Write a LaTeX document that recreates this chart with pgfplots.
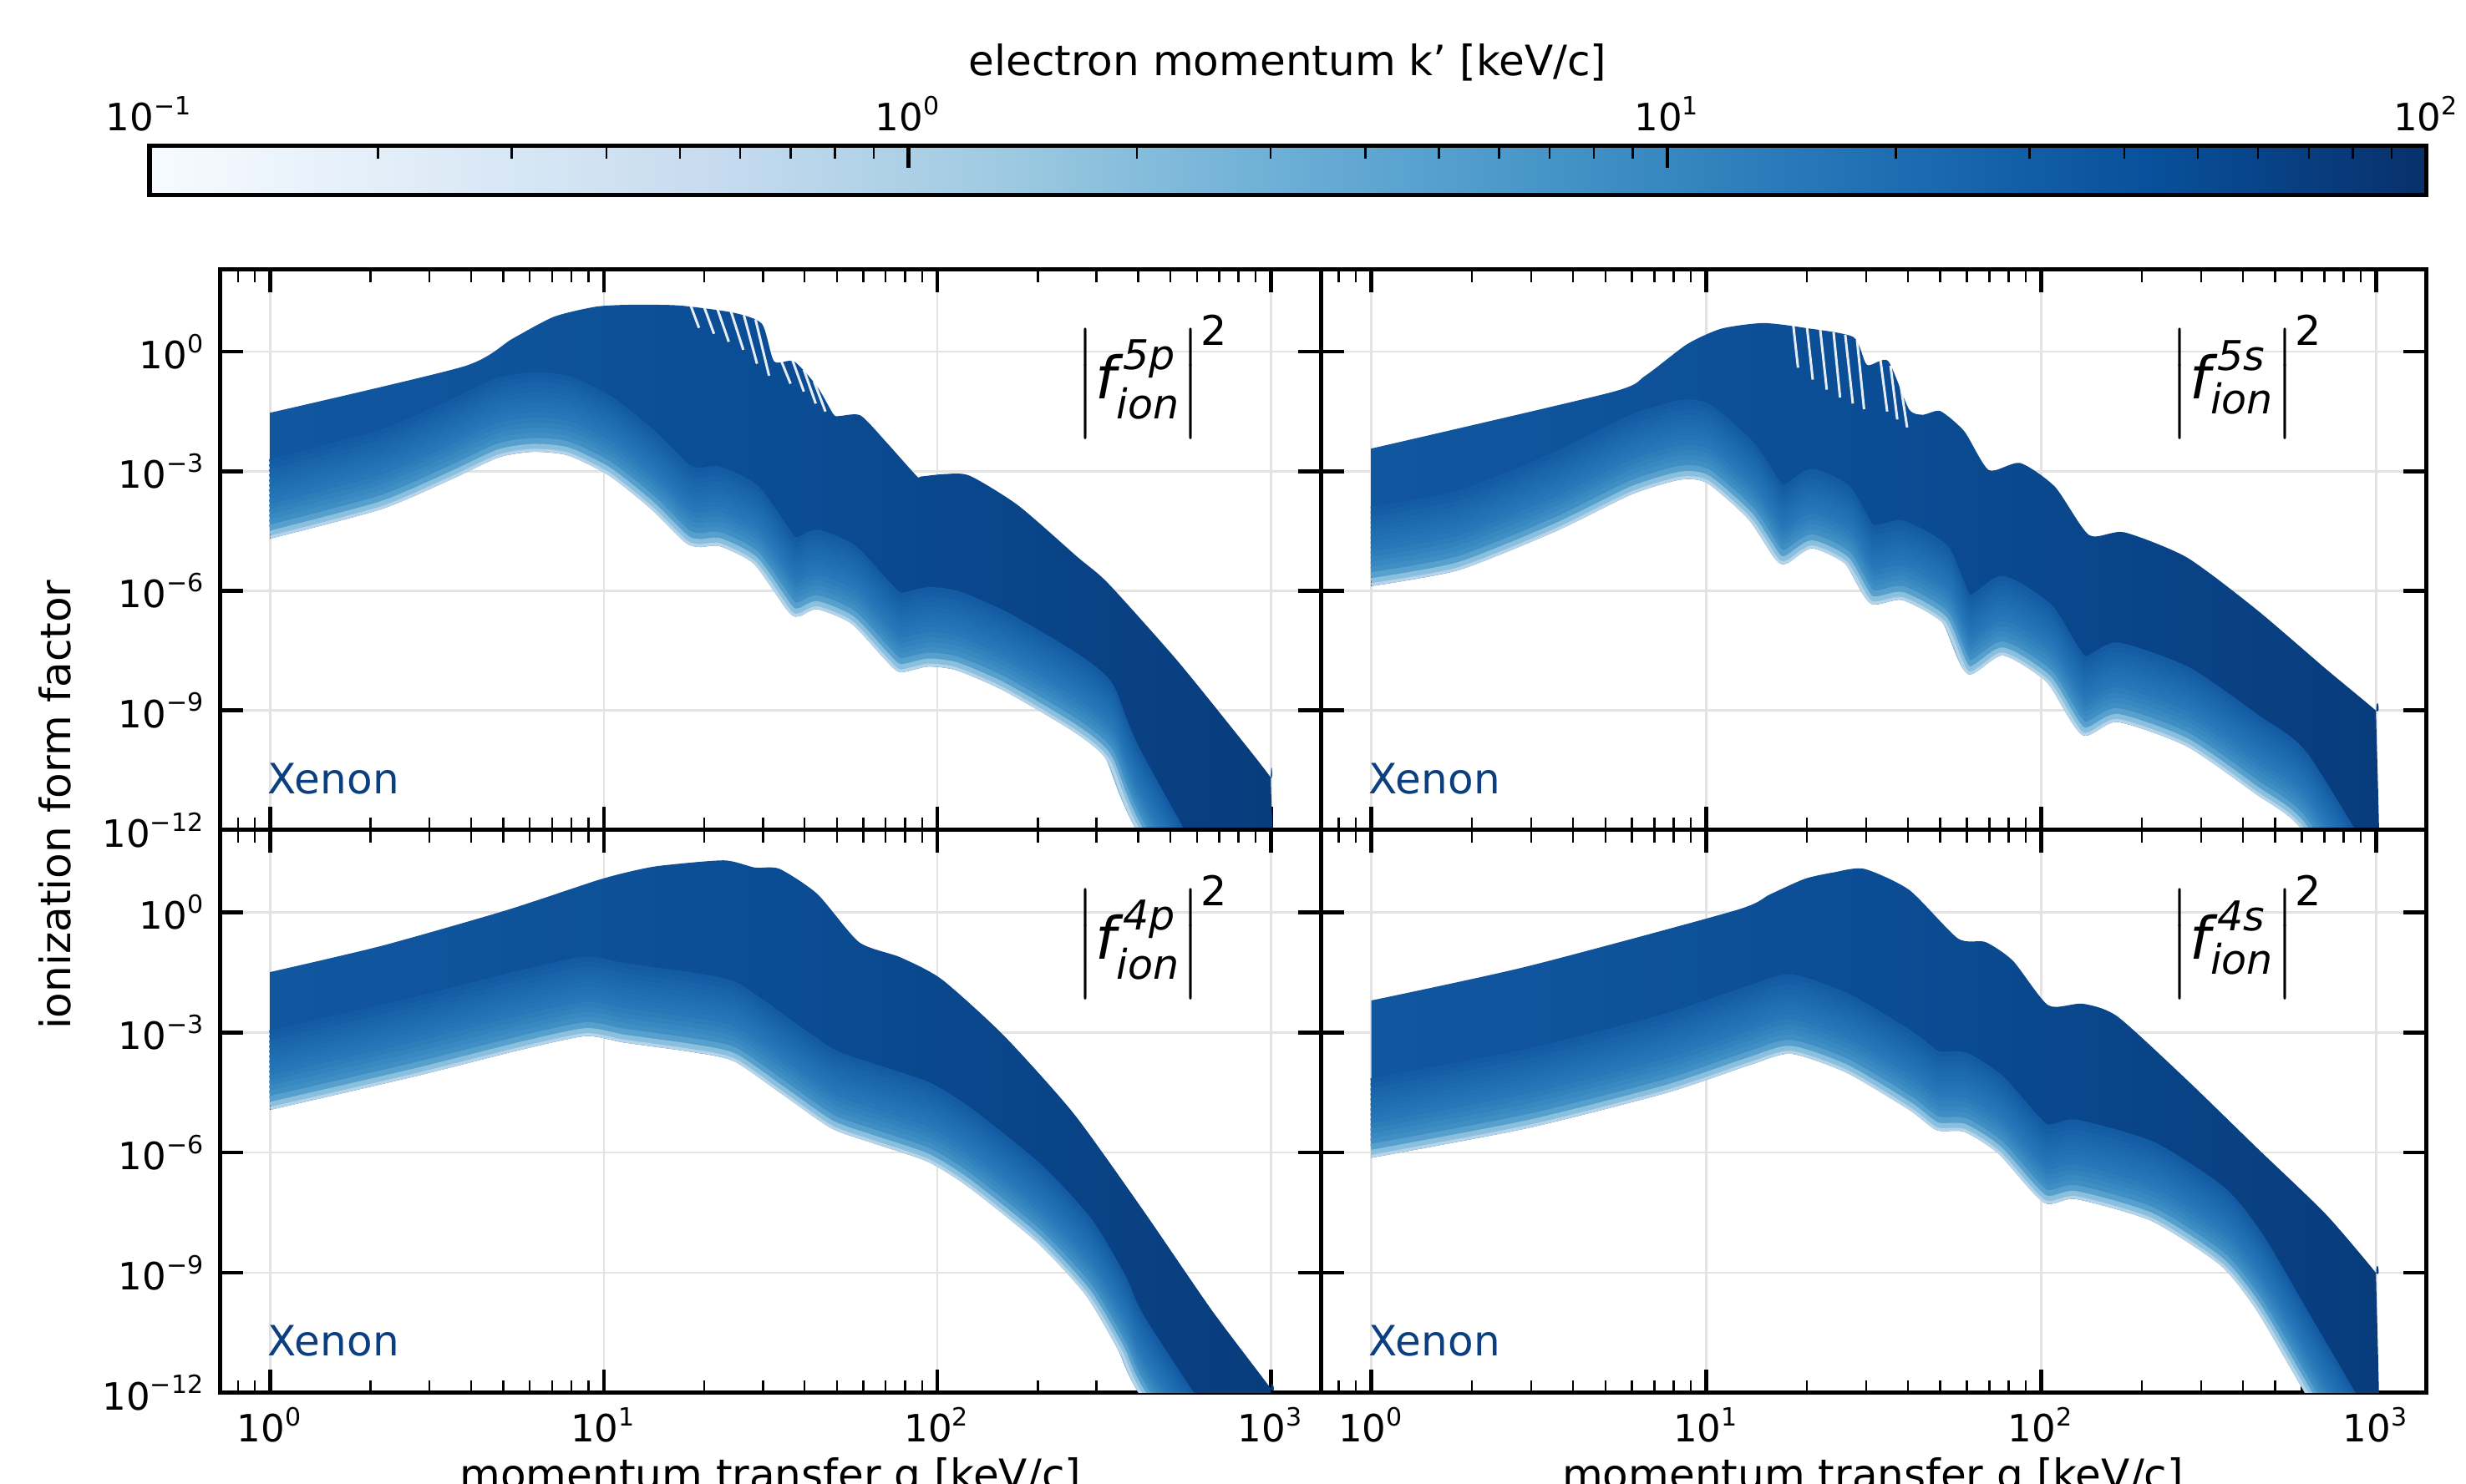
\documentclass[border=0pt]{standalone}
\usepackage{fontspec}
\setmainfont{DejaVu Sans}
\usepackage{amsmath}
\usepackage{pgfplots}
\usepackage{pgfplotstable}
\pgfplotsset{compat=1.18}

% matplotlib Blues
\definecolor{b0}{HTML}{F7FBFF}
\definecolor{b1}{HTML}{DEEBF7}
\definecolor{b2}{HTML}{C6DBEF}
\definecolor{b3}{HTML}{9ECAE1}
\definecolor{b4}{HTML}{6BAED6}
\definecolor{b5}{HTML}{4292C6}
\definecolor{b6}{HTML}{2171B5}
\definecolor{b7}{HTML}{08519C}
\definecolor{b8}{HTML}{08306B}
\definecolor{bandL}{HTML}{11579F}
\definecolor{bandM}{HTML}{0B4D95}
\definecolor{bandR}{HTML}{083C7C}
\definecolor{xen}{HTML}{0B3F80}

\pgfdeclarehorizontalshading{blues}{100bp}{color(0bp)=(b0); color(25bp)=(b0);
  color(31.25bp)=(b1); color(37.5bp)=(b2); color(43.75bp)=(b3); color(50bp)=(b4);
  color(56.25bp)=(b5); color(62.5bp)=(b6); color(68.75bp)=(b7); color(75bp)=(b8);
  color(100bp)=(b8)}

% band outlines: top envelope left to right, then bottom envelope right to left (P)
% bottom envelope alone (B)
% 5p
\pgfplotstableread{
q f
1 2.95e-2
3.80 4.27e-1
5.33 2.14
7.10 7.59
9.46 13.5
12.0 15.1
16.8 14.5
24.5 9.55
29.8 5.01
32.4 5.75e-1
37.2 5.75e-1
43.7 1.32e-1
48.8 2.69e-2
51.0 2.45e-2
58.9 2.51e-2
70.5 5.25e-3
86.5 7.76e-4
89.1 7.41e-4
105 8.51e-4
125 7.76e-4
175 1.38e-4
263 7.08e-6
325 1.55e-6
525 1.74e-8
845 1.26e-10
1000 2.04e-11
1000 1.6e-11
1000 1e-18
398 1.0e-12
325 5.37e-11
256 2.95e-10
158 3.16e-9
114 1.02e-8
93.8 1.26e-8
77.4 9.12e-9
70.5 1.74e-8
55.5 1.48e-7
43.7 3.47e-7
38.7 2.34e-7
36.1 2.82e-7
28.4 4.57e-6
22.3 1.32e-5
19.4 1.26e-5
17.6 1.62e-5
13.9 1.12e-4
10.4 7.76e-4
7.82 2.51e-3
6.15 3.09e-3
4.84 2.24e-3
3.47 6.17e-4
2.15 1.12e-4
1 2.04e-5
}\Ppa
\pgfplotstableread{
q f
1 2.04e-5
2.15 1.12e-4
3.47 6.17e-4
4.84 2.24e-3
6.15 3.09e-3
7.82 2.51e-3
10.4 7.76e-4
13.9 1.12e-4
17.6 1.62e-5
19.4 1.26e-5
22.3 1.32e-5
28.4 4.57e-6
36.1 2.82e-7
38.7 2.34e-7
43.7 3.47e-7
55.5 1.48e-7
70.5 1.74e-8
77.4 9.12e-9
93.8 1.26e-8
114 1.02e-8
158 3.16e-9
256 2.95e-10
325 5.37e-11
398 1.0e-12
1000 1e-18
}\Bpa
% 5s
\pgfplotstableread{
q f
1 3.72e-3
5.19 9.55e-2
6.58 2.51e-1
8.77 1.55
11.1 3.80
14.8 5.25
19.7 3.98
27.5 2.34
30.2 4.68e-1
34.9 5.89e-1
40.3 3.63e-2
44.4 2.63e-2
50.0 3.24e-2
59.0 1.0e-2
69.8 1.07e-3
86.5 1.62e-3
110 4.07e-4
139 2.51e-5
177 2.95e-5
272 6.92e-6
438 3.47e-7
706 1.12e-8
1000 9.77e-10
1000 7.8e-10
1000 1e-15
603 1.0e-12
438 7.94e-12
272 1.26e-10
169 5.13e-10
133 2.40e-10
105 4.79e-9
76.9 2.40e-8
60.5 8.13e-9
51.3 1.48e-7
38.5 5.89e-7
31.0 4.79e-7
26.2 4.57e-6
20.7 1.17e-5
17.5 5.01e-6
16.3 5.62e-6
13.5 5.89e-5
10.1 5.01e-4
8.36 6.17e-4
5.98 2.63e-4
3.54 3.09e-5
1.82 3.31e-6
1 1.32e-6
}\Ppb
\pgfplotstableread{
q f
1 1.32e-6
1.82 3.31e-6
3.54 3.09e-5
5.98 2.63e-4
8.36 6.17e-4
10.1 5.01e-4
13.5 5.89e-5
16.3 5.62e-6
17.5 5.01e-6
20.7 1.17e-5
26.2 4.57e-6
31.0 4.79e-7
38.5 5.89e-7
51.3 1.48e-7
60.5 8.13e-9
76.9 2.40e-8
105 4.79e-9
133 2.40e-10
169 5.13e-10
272 1.26e-10
438 7.94e-12
603 1.0e-12
1000 1e-15
}\Bpb
% 4p
\pgfplotstableread{
q f
1 3.24e-2
2.15 1.45e-1
5.08 1.12
9.46 6.17
11.7 10.0
14.6 14.5
22.9 20.0
28.4 13.2
33.6 12.3
43.7 2.88
58.2 1.82e-1
77.4 7.59e-2
103 2.14e-2
158 8.51e-4
256 9.55e-6
413 3.72e-8
665 1.15e-10
1000 1.26e-12
1000 1.0e-12
1000 1e-17
417 6.31e-13
355 1.0e-11
282 2.51e-10
201 5.37e-9
125 1.32e-7
93.8 5.89e-7
64.0 1.74e-6
48.1 4.07e-6
34.4 2.82e-5
24.6 1.91e-4
18.5 3.24e-4
11.5 5.62e-4
8.81 8.13e-4
5.58 3.63e-4
2.73 8.13e-5
1 1.17e-5
}\Ppc
\pgfplotstableread{
q f
1 1.17e-5
2.73 8.13e-5
5.58 3.63e-4
8.81 8.13e-4
11.5 5.62e-4
18.5 3.24e-4
24.6 1.91e-4
34.4 2.82e-5
48.1 4.07e-6
64.0 1.74e-6
93.8 5.89e-7
125 1.32e-7
201 5.37e-9
282 2.51e-10
355 1.0e-11
417 6.31e-13
1000 1e-17
}\Bpc
% 4s
\pgfplotstableread{
q f
1 6.31e-3
2.92 4.47e-2
12.2 1.12
15.5 2.82
19.7 6.92
24.0 10.0
29.6 12.3
40.4 3.63
56.4 2.24e-1
68.2 1.82e-1
82.4 6.17e-2
105 4.79e-3
133 5.25e-3
169 2.51e-3
272 6.61e-5
438 1.38e-6
706 2.95e-8
1000 9.77e-10
1000 7.8e-10
1000 1e-15
617 1.0e-12
447 1.0e-10
345 1.48e-9
214 1.95e-8
127 6.92e-8
102 5.62e-8
75.0 9.12e-7
59.0 3.31e-6
48.8 3.63e-6
40.4 1.17e-5
26.2 1.0e-4
17.9 2.95e-4
13.5 1.55e-4
7.59 3.09e-5
2.92 4.07e-6
1 7.41e-7
}\Ppd
\pgfplotstableread{
q f
1 7.41e-7
2.92 4.07e-6
7.59 3.09e-5
13.5 1.55e-4
17.9 2.95e-4
26.2 1.0e-4
40.4 1.17e-5
48.8 3.63e-6
59.0 3.31e-6
75.0 9.12e-7
102 5.62e-8
127 6.92e-8
214 1.95e-8
345 1.48e-9
447 1.0e-10
617 1.0e-12
1000 1e-15
}\Bpd

% one lighter stroke along the bottom envelope, lifted by #3
\newcommand{\edge}[4]{\addplot[draw={#1}, line width=#2, yshift=#3, mark=none, line join=round, smooth, tension=0.4] table[x=q,y=f]{#4};}
\newcommand{\band}[2]{%
  \addplot[left color=bandL, right color=bandR, middle color=bandM, draw=none, mark=none, smooth, tension=0.4] table[x=q,y=f]{#1} -- cycle;
  \edge{b6!15!bandL}{2.6pt}{17.7pt}{#2}
  \edge{b6!30!bandL}{2.6pt}{16.5pt}{#2}
  \edge{b6!45!bandL}{2.6pt}{15.3pt}{#2}
  \edge{b6!60!bandL}{2.6pt}{14.1pt}{#2}
  \edge{b6!75!bandL}{2.6pt}{12.9pt}{#2}
  \edge{b6!88!bandL}{2.6pt}{11.7pt}{#2}
  \edge{b6}{2.6pt}{10.5pt}{#2}
  \edge{b5!10!b6}{2.6pt}{9.3pt}{#2}
  \edge{b5!22!b6}{2.6pt}{8.1pt}{#2}
  \edge{b5!36!b6}{2.6pt}{6.9pt}{#2}
  \edge{b5!52!b6}{2.6pt}{5.7pt}{#2}
  \edge{b5!70!b6}{2.6pt}{4.5pt}{#2}
  \edge{b5!90!b6}{2.6pt}{3.3pt}{#2}
  \edge{b4!50!b5}{2.4pt}{2.1pt}{#2}
  \edge{b4!40!b3}{1.6pt}{1.1pt}{#2}
  \edge{b3!40!b2}{0.7pt}{0.35pt}{#2}
}
% white gaps between the separate high-k' curves near the peaks
\newcommand{\gap}[4]{\addplot[white, opacity=0.9, line width=0.6pt, mark=none] coordinates {(#1,#2) (#3,#4)};}
\newcommand{\fion}[1]{{\fontsize{14}{16}\selectfont$\Big|\textit{f}^{\,\textit{#1}}_{\textit{ion}}\Big|^{\text{2}}$}}
\newcommand{\xenon}{\node[anchor=base west, text=xen, font=\fontsize{10}{12}\selectfont] at (rel axis cs:0.03,0.065) {Xenon};}

\begin{document}
\begin{tikzpicture}

% colorbar
\begin{axis}[at={(35.72pt,308.3pt)}, anchor=south west, scale only axis,
  width=544.4pt, height=11.7pt, xmode=log, xmin=0.1, xmax=100, ymin=0, ymax=1,
  ytick=\empty, xtick pos=right, xticklabel pos=right,
  xtick={0.1,1,10,100},
  xticklabels={10\textsuperscript{−1},10\textsuperscript{0},10\textsuperscript{1},10\textsuperscript{2}},
  minor xtick={0.2,0.3,0.4,0.5,0.6,0.7,0.8,0.9,2,3,4,5,6,7,8,9,20,30,40,50,60,70,80,90},
  tick align=inside, major tick length=5.3pt, minor tick length=3pt,
  major tick style={line width=0.9pt, black},
  minor tick style={line width=0.5pt, black},
  axis line style={line width=1.1pt}, axis on top,
  tick label style={font=\fontsize{9}{10}\selectfont}]
\shade[shading=blues] (axis cs:0.1,0) rectangle (axis cs:100,1);
\end{axis}
\node[anchor=base, font=\fontsize{10}{12}\selectfont] at (307.9pt,336.9pt) {electron momentum k' [keV/c]};

% 5p
\begin{axis}[at={(52.64pt,156.4pt)}, anchor=south west, scale only axis,
  width=263.2pt, height=134pt,
  xmode=log, ymode=log, xmin=0.708, xmax=1413, ymin=1e-12, ymax=1.15e2,
  axis line style={line width=1pt},
  tick align=inside, major tick length=5.5pt, minor tick length=3pt,
  major tick style={line width=0.9pt, black},
  minor tick style={line width=0.5pt, black},
  xtick={1,10,100,1000},
  minor xtick={0.8,0.9,2,3,4,5,6,7,8,9,20,30,40,50,60,70,80,90,200,300,400,500,600,700,800,900},
  ytick={1e-12,1e-9,1e-6,1e-3,1},
  xticklabels={},
  yticklabels={10\textsuperscript{−12},10\textsuperscript{−9},10\textsuperscript{−6},10\textsuperscript{−3},10\textsuperscript{0}},
  grid=major, grid style={gray!22, line width=0.5pt},
  tick label style={font=\fontsize{9}{10}\selectfont}]
\band{\Ppa}{\Bpa}
\gap{18.2}{14.8}{19.3}{3.98}
\gap{20.0}{13.2}{21.4}{2.82}
\gap{21.9}{12.0}{23.7}{1.78}
\gap{24.0}{11.0}{26.2}{1.12}
\gap{26.3}{8.32}{28.8}{0.501}
\gap{28.5}{6.46}{31.3}{0.251}
\gap{33.9}{0.646}{36.3}{0.158}
\gap{36.7}{0.646}{39.8}{0.1}
\gap{39.8}{0.355}{43.2}{0.0501}
\gap{42.7}{0.178}{46.2}{0.0316}
\xenon
\node[anchor=north east] at (rel axis cs:0.93,0.945) {\fion{5p}};
\end{axis}

% 5s
\begin{axis}[at={(315.84pt,156.4pt)}, anchor=south west, scale only axis,
  width=264.3pt, height=134pt,
  xmode=log, ymode=log, xmin=0.708, xmax=1413, ymin=1e-12, ymax=1.15e2,
  axis line style={line width=1pt},
  tick align=inside, major tick length=5.5pt, minor tick length=3pt,
  major tick style={line width=0.9pt, black},
  minor tick style={line width=0.5pt, black},
  xtick={1,10,100,1000},
  minor xtick={0.8,0.9,2,3,4,5,6,7,8,9,20,30,40,50,60,70,80,90,200,300,400,500,600,700,800,900},
  ytick={1e-12,1e-9,1e-6,1e-3,1},
  xticklabels={}, yticklabels={},
  grid=major, grid style={gray!22, line width=0.5pt},
  tick label style={font=\fontsize{9}{10}\selectfont}]
\band{\Ppb}{\Bpb}
\gap{18.2}{4.57}{18.8}{0.398}
\gap{20.0}{4.07}{20.8}{0.2}
\gap{21.9}{3.55}{22.9}{0.112}
\gap{24.0}{3.09}{25.1}{0.0708}
\gap{26.0}{2.69}{27.4}{0.0501}
\gap{28.2}{2.0}{29.6}{0.0363}
\gap{33.1}{0.661}{34.7}{0.0316}
\gap{35.5}{0.447}{37.2}{0.02}
\gap{38.0}{0.158}{39.8}{0.0126}
\xenon
\node[anchor=north east] at (rel axis cs:0.92,0.945) {\fion{5s}};
\end{axis}

% 4p
\begin{axis}[at={(52.64pt,21.8pt)}, anchor=south west, scale only axis,
  width=263.2pt, height=134.6pt,
  xmode=log, ymode=log, xmin=0.708, xmax=1413, ymin=1e-12, ymax=1.15e2,
  axis line style={line width=1pt},
  tick align=inside, major tick length=5.5pt, minor tick length=3pt,
  major tick style={line width=0.9pt, black},
  minor tick style={line width=0.5pt, black},
  xtick={1,10,100,1000},
  minor xtick={0.8,0.9,2,3,4,5,6,7,8,9,20,30,40,50,60,70,80,90,200,300,400,500,600,700,800,900},
  ytick={1e-12,1e-9,1e-6,1e-3,1},
  xticklabels={10\textsuperscript{0},10\textsuperscript{1},10\textsuperscript{2},10\textsuperscript{3}},
  yticklabels={10\textsuperscript{−12},10\textsuperscript{−9},10\textsuperscript{−6},10\textsuperscript{−3},10\textsuperscript{0}},
  grid=major, grid style={gray!22, line width=0.5pt},
  tick label style={font=\fontsize{9}{10}\selectfont}]
\band{\Ppc}{\Bpc}
\xenon
\node[anchor=north east] at (rel axis cs:0.93,0.945) {\fion{4p}};
\end{axis}

% 4s
\begin{axis}[at={(315.84pt,21.8pt)}, anchor=south west, scale only axis,
  width=264.3pt, height=134.6pt,
  xmode=log, ymode=log, xmin=0.708, xmax=1413, ymin=1e-12, ymax=1.15e2,
  axis line style={line width=1pt},
  tick align=inside, major tick length=5.5pt, minor tick length=3pt,
  major tick style={line width=0.9pt, black},
  minor tick style={line width=0.5pt, black},
  xtick={1,10,100,1000},
  minor xtick={0.8,0.9,2,3,4,5,6,7,8,9,20,30,40,50,60,70,80,90,200,300,400,500,600,700,800,900},
  ytick={1e-12,1e-9,1e-6,1e-3,1},
  xticklabels={10\textsuperscript{0},10\textsuperscript{1},10\textsuperscript{2},10\textsuperscript{3}},
  yticklabels={},
  grid=major, grid style={gray!22, line width=0.5pt},
  tick label style={font=\fontsize{9}{10}\selectfont}]
\band{\Ppd}{\Bpd}
\xenon
\node[anchor=north east] at (rel axis cs:0.92,0.945) {\fion{4s}};
\end{axis}

\node[rotate=90, font=\fontsize{10}{12}\selectfont] at (13.2pt,162.4pt) {ionization form factor};
\node[anchor=base, font=\fontsize{10}{12}\selectfont] at (184.2pt,-1.3pt) {momentum transfer q [keV/c]};
\node[anchor=base, font=\fontsize{10}{12}\selectfont] at (447.8pt,-1.3pt) {momentum transfer q [keV/c]};

\pgfresetboundingbox
\useasboundingbox (0,0) rectangle (589.6pt,354.9pt);
\end{tikzpicture}
\end{document}
